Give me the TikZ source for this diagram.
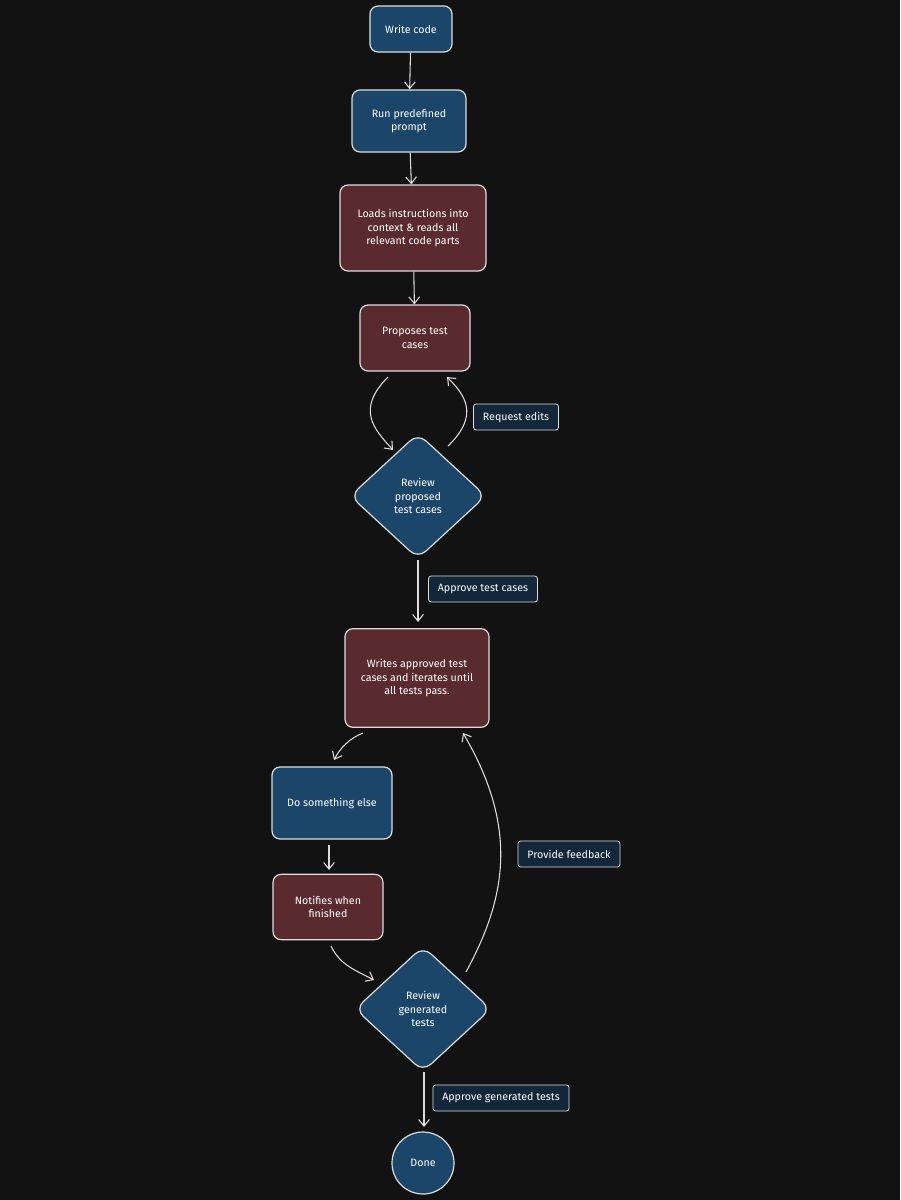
\documentclass[tikz,border=0pt]{standalone}
\usepackage{fontspec}
\setmainfont{Fira Sans}
\usetikzlibrary{shapes.geometric,patterns,arrows.meta}
\definecolor{bg}{HTML}{121212}
\definecolor{bl}{HTML}{1B4669}
\definecolor{rd}{HTML}{5A2B2E}
\definecolor{ln}{HTML}{DDDDDD}
\definecolor{lb}{HTML}{13263A}
\begin{document}
\begin{tikzpicture}[x=0.75pt,y=-0.75pt,
 box/.style={draw=ln,line width=0.9pt,rounded corners=6pt,align=center,text=white,font=\fontsize{8}{10}\selectfont,inner sep=0pt},
 dia/.style={draw=ln,line width=0.9pt,diamond,rounded corners=8pt,align=center,text=white,font=\fontsize{8}{10}\selectfont,fill=bl,inner sep=0pt},
 lab/.style={draw=ln,line width=0.6pt,rounded corners=2pt,fill=lb,text=white,font=\fontsize{8}{10}\selectfont,inner xsep=7pt,minimum height=19.5pt},
 arr/.style={draw=ln,line width=0.8pt,-{Straight Barb[length=5pt,width=8pt]}}]
\fill[bg] (0,0) rectangle (900,1200);
\node[box,fill=bl,minimum width=61.5pt,minimum height=34.5pt] (a) at (411,29) {Write code};
\node[box,fill=bl,minimum width=85.5pt,minimum height=46.5pt] (b) at (409,121) {Run predefined\\prompt};
\node[box,fill=rd,minimum width=109.5pt,minimum height=64.5pt] (c) at (413,228) {Loads instructions into\\context \& reads all\\relevant code parts};
\node[box,fill=rd,minimum width=82.5pt,minimum height=49.5pt] (d) at (415,338) {Proposes test\\cases};
\node[dia,minimum width=102pt,minimum height=94pt] (e) at (418,496) {Review\\proposed\\test cases};
\node[box,fill=rd,minimum width=108pt,minimum height=74pt] (f) at (417,678) {Writes approved test\\cases and iterates until\\all tests pass.};
\node[box,fill=bl,minimum width=90pt,minimum height=54pt] (g) at (332,803) {Do something else};
\node[box,fill=rd,minimum width=82.5pt,minimum height=49pt] (h) at (328,907) {Notifies when\\finished};
\node[dia,minimum width=102pt,minimum height=94pt] (i) at (423,1009) {Review\\generated\\tests};
\node[draw=ln,line width=0.9pt,circle,fill=bl,minimum size=46.5pt,text=white,font=\fontsize{8}{10}\selectfont] (j) at (423,1163) {Done};
\node[lab] (l1) at (516,417) {Request edits};
\node[lab] (l2) at (483,589) {Approve test cases};
\node[lab] (l3) at (569,854) {Provide feedback};
\node[lab] (l4) at (501,1098) {Approve generated tests};
\draw[arr] (a) -- (b);
\draw[arr] (b) -- (c);
\draw[arr] (c) -- (d);
\draw[arr] (388,377) .. controls (355,410) and (375,430) .. (393,450);
\draw[arr] (448,446) .. controls (480,415) and (465,395) .. (447,377);
\draw[arr] (418,560) -- (418,622);
\draw[arr] (363,733) .. controls (350,738) and (340,748) .. (334,760);
\draw[arr] (329,845) -- (329,870);
\draw[arr] (331,946) .. controls (340,965) and (355,970) .. (374,980);
\draw[arr] (466,972) .. controls (505,900) and (520,830) .. (463,733);
\draw[arr] (424,1072) -- (424,1127);
\end{tikzpicture}
\end{document}
